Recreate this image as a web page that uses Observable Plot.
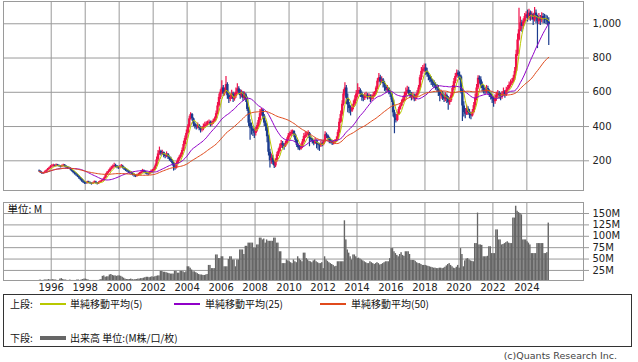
<!DOCTYPE html>
<html><head><meta charset="utf-8">
<script src="https://cdn.jsdelivr.net/npm/d3@7"></script>
<script src="https://cdn.jsdelivr.net/npm/@observablehq/plot@0.6"></script>
<style>
html,body{margin:0;padding:0;background:#fff;}
body{width:638px;height:362px;position:relative;overflow:hidden;font-family:"DejaVu Sans",sans-serif;}
#price{position:absolute;left:0;top:0;}
#vol{position:absolute;left:0;top:201px;}
#legend{position:absolute;left:3px;top:294px;width:629px;height:53px;border:1px solid #333;box-sizing:border-box;font-family:"Noto Sans CJK JP",sans-serif;font-size:10px;color:#111;}
#legend span{position:absolute;white-space:nowrap;line-height:12px;}
#legend i{position:absolute;display:block;}
#caption{position:absolute;right:21px;top:350px;font-family:"DejaVu Sans",sans-serif;font-size:9.5px;color:#444;white-space:nowrap;}
</style></head><body>
<div id="price"></div>
<div id="vol"></div>
<div id="legend">
  <span style="left:6px;top:3px">上段:</span>
  <i style="left:36px;top:8px;width:26px;height:1.5px;background:#b8c800"></i>
  <span style="left:66px;top:3px">単純移動平均(5)</span>
  <i style="left:170px;top:8px;width:26px;height:1.5px;background:#9000c8"></i>
  <span style="left:201px;top:3px">単純移動平均(25)</span>
  <i style="left:316px;top:8px;width:26px;height:1.5px;background:#e04a1c"></i>
  <span style="left:347px;top:3px">単純移動平均(50)</span>
  <span style="left:6px;top:37px">下段:</span>
  <i style="left:36px;top:41px;width:26px;height:4px;background:#666"></i>
  <span style="left:66px;top:37px">出来高 単位:(M株/口/枚)</span>
</div>
<div id="caption">(c)Quants Research Inc.</div>
<script>
// Monthly data, April 1995 – April 2025
const firstMonth = [1995, 4];
const firstOpen = 140;
const closes = [
  138,130,125,128,135,142,150,158,165,
  168,172,170,175,172,168,165,170,174,168,162,158,
  155,148,140,132,125,118,110,100,92,82,75,70,
  68,75,72,68,65,70,76,70,66,72,78,82,
  88,100,118,130,138,150,158,165,172,168,162,160,
  165,168,160,152,145,140,135,130,126,120,115,110,
  115,120,125,132,140,135,130,125,122,130,138,142,
  150,170,205,240,255,240,248,232,225,238,222,210,
  200,185,165,158,185,205,220,235,260,295,330,360,
  400,445,470,445,415,400,395,405,390,380,385,400,
  410,415,420,425,410,420,430,445,475,520,570,600,
  625,590,600,645,580,560,570,590,560,575,600,620,
  600,580,595,565,585,560,500,420,390,385,372,360,
  380,405,435,475,495,460,420,400,340,250,200,215,
  190,170,200,235,255,280,300,290,285,300,322,345,
  355,365,372,350,320,290,275,268,280,310,342,348,
  352,360,330,322,312,300,318,300,292,288,300,295,
  312,352,345,332,315,310,300,306,312,322,365,425,
  470,530,590,625,565,525,505,490,510,530,560,590,
  600,610,590,570,565,580,582,572,578,560,568,582,
  595,625,665,685,660,672,650,630,612,622,600,590,
  555,480,450,435,470,500,520,540,560,580,600,612,
  592,580,570,582,562,575,592,625,685,722,735,742,
  722,702,690,672,660,650,640,630,620,600,580,590,
  572,560,580,560,540,550,580,622,662,692,712,700,
  690,605,520,482,472,502,482,472,462,482,522,565,
  625,682,672,642,622,612,602,622,602,592,572,560,
  545,562,580,592,580,570,590,602,582,612,622,642,
  652,662,682,722,820,905,965,1005,985,1012,1042,1052,
  1032,1062,1042,1052,1022,1062,1042,1012,1032,1022,1042,1032,
  1030,1020,1010,995
];
const highs = [
  146,141,133,132,140,147,155,163,172,
  178,180,177,182,179,175,171,176,180,178,171,166,
  164,160,152,144,136,129,121,113,104,95,86,78,
  76,80,80,76,71,75,82,80,73,77,84,88,
  94,106,125,138,146,158,168,176,185,180,172,168,
  172,178,174,164,157,150,145,140,136,131,125,120,
  122,127,132,140,150,146,139,134,130,138,146,150,
  160,182,222,260,280,262,262,252,240,252,242,228,
  220,208,192,172,195,215,230,245,275,315,345,380,
  410,460,480,476,450,422,410,420,412,398,398,415,
  425,428,432,438,432,432,442,455,490,540,590,615,
  668,640,625,692,655,598,590,612,600,595,625,650,
  632,615,612,605,602,595,572,512,440,420,402,390,
  395,420,452,500,506,500,470,432,410,350,268,240,
  232,200,212,250,270,298,318,312,302,315,335,360,
  368,378,380,376,356,326,300,290,300,325,360,370,
  368,375,366,340,330,320,332,322,305,302,312,310,
  322,370,362,350,338,325,320,318,325,340,380,445,
  490,550,615,655,640,590,540,520,525,550,580,610,
  650,628,620,602,585,595,600,592,592,585,585,600,
  605,635,680,710,700,690,680,662,640,640,628,612,
  598,560,495,470,485,512,535,555,575,600,625,635,
  630,610,598,598,590,590,610,640,700,745,757,765,
  765,740,712,700,690,675,668,655,645,640,615,612,
  605,590,598,590,575,568,595,640,680,710,730,725,
  718,700,620,545,505,525,515,500,485,500,540,590,
  645,697,695,690,660,640,630,640,635,615,600,585,
  575,585,600,610,605,595,605,625,610,630,640,660,
  672,680,700,745,845,940,1090,1040,1020,1030,1060,1070,
  1080,1085,1075,1070,1060,1095,1080,1050,1060,1048,1065,1060,
  1055,1050,1045,1035
];
const lows = [
  133,127,120,121,125,131,139,146,153,
  160,163,164,165,166,162,158,160,164,163,155,150,
  149,142,134,125,117,110,102,92,84,75,68,62,
  62,64,66,62,58,61,67,64,58,62,69,74,
  78,84,96,112,124,132,145,152,160,160,154,150,
  152,158,152,144,137,131,126,121,117,111,104,102,
  104,109,115,121,128,127,122,117,113,117,127,132,
  138,145,165,198,232,228,232,218,212,218,208,198,
  190,175,140,145,152,180,198,212,228,255,285,320,
  350,392,438,432,400,386,380,385,375,362,368,375,
  392,400,405,410,398,402,412,425,438,468,512,558,
  588,575,578,595,560,535,545,558,540,548,565,588,
  585,560,568,548,552,540,488,400,320,350,342,330,
  345,368,395,420,462,440,400,372,305,228,158,180,
  175,155,160,192,225,245,272,270,262,278,292,318,
  335,342,352,335,305,278,262,258,262,272,302,330,
  335,344,282,310,298,288,295,270,262,255,278,282,
  288,306,330,318,300,298,290,292,298,308,318,358,
  418,460,520,578,528,480,475,462,482,498,522,548,
  570,585,570,548,545,552,562,555,560,540,548,558,
  572,588,615,655,640,650,625,605,595,600,585,570,
  540,455,358,420,428,465,495,515,535,548,570,590,
  580,565,550,555,545,548,568,585,615,670,705,715,
  700,688,668,655,640,630,622,612,600,575,545,560,
  552,540,545,535,495,525,540,570,610,650,685,680,
  670,590,430,455,445,465,465,445,440,455,475,510,
  550,615,648,625,600,590,585,590,585,570,555,535,
  512,530,548,568,560,550,560,580,565,575,600,615,
  630,640,655,670,715,810,900,955,950,970,1000,1030,
  1010,1020,1015,1020,990,1010,1000,855,995,990,1005,1000,
  1000,995,990,873
];
const volumes = [
  3,4,3,3,4,4,4,5,4,
  4,5,4,4,3,3,6,7,5,4,4,3,
  3,4,3,3,3,3,4,4,3,4,5,6,
  6,5,4,3,3,3,3,3,3,3,4,5,
  12,13,10,11,11,15,16,14,13,13,12,13,
  13,12,10,8,6,5,5,5,6,5,4,5,
  5,6,6,7,7,8,9,10,10,9,10,11,
  10,11,12,13,13,23,23,21,21,20,19,18,
  17,17,17,23,23,19,19,23,23,22,20,22,
  33,33,30,26,22,22,20,18,16,15,15,14,
  14,15,16,36,36,29,29,29,59,59,51,51,
  55,55,33,33,33,49,55,55,48,48,33,48,
  48,70,70,70,60,78,78,85,85,85,85,74,
  74,81,81,96,96,92,94,85,92,89,89,89,
  89,96,96,85,85,66,66,40,40,40,48,46,
  44,42,40,48,44,42,55,50,47,44,63,63,
  51,48,45,44,42,46,48,44,42,40,40,42,
  29,55,48,45,42,40,38,36,33,34,44,44,
  44,44,44,134,92,70,63,55,48,59,59,55,
  51,52,50,48,46,44,42,40,40,44,42,40,
  38,40,42,40,37,38,40,42,44,44,44,51,
  73,73,66,62,58,55,60,64,58,56,66,66,
  66,60,47,47,47,45,42,40,40,38,36,36,
  36,35,34,33,32,31,30,30,29,29,30,30,
  29,30,32,35,38,40,36,33,30,29,32,36,
  30,73,60,33,46,50,51,48,46,45,44,84,
  84,151,81,81,80,55,55,55,56,77,77,62,
  62,62,114,114,92,92,81,82,84,86,88,85,
  84,84,140,140,166,155,152,150,147,92,92,92,
  88,85,81,62,62,62,62,84,84,84,84,84,
  62,62,64,129
];
const priceTicks = [200, 400, 600, 800, 1000];
const volumeTicks = [25, 50, 75, 100, 125, 150];
const yearTicks = [1996,1998,2000,2002,2004,2006,2008,2010,2012,2014,2016,2018,2020,2022,2024];
const maPeriods = [5, 25, 50];
const maColors = ["#b8c800", "#9000c8", "#e04a1c"];
const upColor = "#f0124a", downColor = "#1c3c8e";

const utc = (y, m, d) => new Date(Date.UTC(y, m, d));
const rows = closes.map((c, i) => {
  const open = i ? closes[i - 1] : firstOpen;
  return {
    date: utc(firstMonth[0], firstMonth[1] - 1 + i, 1),
    mid: utc(firstMonth[0], firstMonth[1] - 1 + i, 16),
    next: utc(firstMonth[0], firstMonth[1] + i, 1),
    open, close: c,
    high: Math.max(highs[i], open, c),
    low: Math.min(lows[i], open, c),
    volume: volumes[i],
    color: c >= open ? upColor : downColor
  };
});
const xDomain = [utc(1993, 2, 11), utc(2027, 4, 3)];
const yearDates = yearTicks.map(y => utc(y, 0, 1));
const grid = "#9a9a9a";
const style = {fontFamily: "DejaVu Sans", fontSize: "10px", color: "#222", background: "transparent", overflow: "visible"};

const price = Plot.plot({
  width: 638, height: 191,
  marginLeft: 3, marginRight: 55, marginTop: 1, marginBottom: 1,
  style,
  x: {type: "time", domain: xDomain, axis: null},
  y: {domain: [26.6, 1130], axis: null},
  color: {type: "identity"},
  marks: [
    Plot.gridX(yearDates, {stroke: grid, strokeOpacity: 1}),
    Plot.gridY(priceTicks, {stroke: grid, strokeOpacity: 1}),
    Plot.ruleX(rows, {x: "mid", y1: "low", y2: "high", stroke: "color", strokeWidth: 1.2}),
    Plot.ruleX(rows, {x: "mid", y1: "open", y2: "close", stroke: "color", strokeWidth: 2.4}),
    ...maPeriods.map((k, j) => Plot.lineY(rows, Plot.windowY({k, anchor: "end", reduce: "mean"}, {x: "mid", y: "close", stroke: maColors[j], strokeWidth: 1}))),
    Plot.frame({stroke: grid}),
    Plot.axisY(priceTicks, {anchor: "right", tickSize: 5, tickPadding: 4, tickFormat: d3.format(","), stroke: grid, fill: "#222", label: null})
  ]
});
document.getElementById("price").append(price);

const vol = Plot.plot({
  width: 638, height: 100,
  marginLeft: 3, marginRight: 55, marginTop: 1, marginBottom: 21,
  style,
  x: {type: "time", domain: xDomain, axis: null},
  y: {domain: [2.9, 174.2], axis: null},
  marks: [
    Plot.gridX(yearDates, {stroke: grid, strokeOpacity: 1}),
    Plot.gridY(volumeTicks, {stroke: grid, strokeOpacity: 1}),
    Plot.rectY(rows, {x1: "date", x2: "next", y: "volume", fill: "#666", clip: true}),
    Plot.frame({stroke: grid}),
    Plot.text(["単位: M"], {text: d => d, frameAnchor: "top-left", dx: 4, dy: 3, fontFamily: "Noto Sans CJK JP", fontSize: 10.5, fill: "#111"}),
    Plot.axisY(volumeTicks, {anchor: "right", tickSize: 5, tickPadding: 4, tickFormat: d => d + "M", stroke: grid, fill: "#222", label: null}),
    Plot.axisX(yearDates, {anchor: "bottom", tickSize: 0, tickPadding: 3, tickFormat: d => String(d.getUTCFullYear()), fill: "#222", label: null})
  ]
});
document.getElementById("vol").append(vol);
</script>
</body></html>
